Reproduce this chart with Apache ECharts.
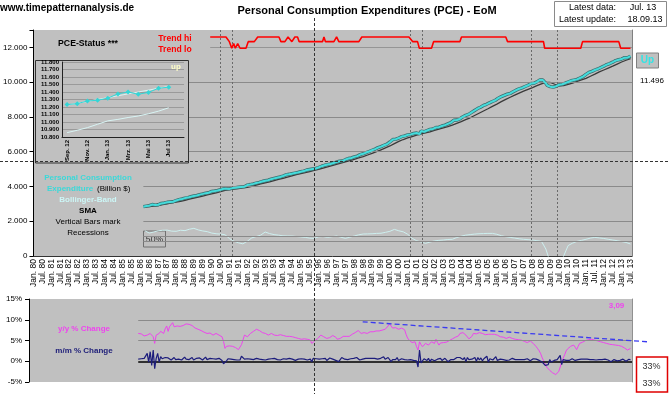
<!DOCTYPE html>
<html><head><meta charset="utf-8">
<script src="https://cdn.jsdelivr.net/npm/echarts@6/dist/echarts.min.js"></script>
<style>html,body{margin:0;padding:0;background:#fff;}#c{width:670px;height:394px;}</style>
</head><body><div id="c"></div>
<script>
// ---------- axis / calendar ----------
const axisStartYear = 1980;      // month index 0 = Jan. 80
const axisMonths = 403;          // Jan. 80 .. Jul. 13 (+1)
const lastMonth = 402;           // Jul. 13
const pceStartMonth = 74;        // Mar. 86
const chgStartMonth = 73;        // Feb. 86
const smaStartMonth = 75;        // Apr. 86, quarterly
const smaStep = 3;
const topTicks = [0, 2000, 4000, 6000, 8000, 10000, 12000];
const lowerTicks = [-5, 0, 5, 10, 15];

// ---------- PCE (Billion $), monthly from Mar. 86 ----------
const pce = [
 2838,2858,2870,2878,2895,2908,2965,2920,2928,2960,
 2950,3010,3025,3040,3050,3072,3090,3112,3105,3115,3120,3140,
 3190,3215,3245,3262,3280,3305,3330,3348,3360,3392,3412,3440,
 3455,3470,3480,3510,3530,3545,3572,3600,3615,3625,3640,3665,
 3715,3720,3740,3760,3770,3800,3815,3840,3865,3870,3862,3860,
 3860,3880,3905,3915,3930,3945,3955,3960,3975,3978,3990,4025,
 4080,4100,4110,4130,4150,4175,4195,4215,4235,4265,4285,4320,
 4330,4355,4360,4390,4420,4440,4465,4480,4505,4520,4545,4575,
 4600,4640,4670,4680,4700,4715,4735,4745,4770,4790,4805,4830,
 4850,4865,4885,4910,4945,4970,4975,4990,5005,5020,5035,5060,
 5090,5140,5165,5195,5220,5225,5260,5275,5295,5320,5345,5370,
 5400,5425,5450,5445,5465,5490,5540,5585,5610,5620,5640,5665,
 5700,5715,5745,5790,5835,5865,5885,5915,5950,5975,6010,6055,
 6085,6110,6150,6195,6235,6260,6290,6330,6370,6400,6430,6500,
 6560,6620,6700,6690,6720,6755,6785,6810,6870,6880,6905,6930,
 6970,6990,6995,7020,7050,7060,7075,7095,7020,7185,7160,7150,
 7190,7220,7235,7285,7275,7310,7375,7390,7390,7410,7440,7480,
 7520,7530,7585,7600,7630,7670,7730,7810,7805,7820,7845,7880,
 7960,8000,8060,8090,8160,8150,8230,8260,8310,8370,8410,8480,
 8480,8560,8590,8660,8670,8725,8830,8810,8860,8890,8920,8960,
 9060,9080,9120,9170,9200,9240,9290,9310,9320,9350,9380,9450,
 9500,9540,9585,9620,9650,9670,9710,9750,9790,9820,9880,9920,
 9930,9930,9990,10020,10070,10130,10150,10120,10060,9930,9810,9760,
 9740,9720,9710,9740,9770,9810,9850,9940,9880,9920,9940,9970,
 10010,10030,10080,10100,10120,10140,10160,10200,10240,10290,10320,10370,
 10450,10500,10560,10600,10620,10660,10700,10730,10760,10800,10840,10880,
 10920,10970,11010,11040,11070,11100,11150,11190,11240,11255,11290,11300,
 11330,11385,11410,11380,11405,11460,11496
];

// ---------- SMA, quarterly from Apr. 86 ----------
const sma = [
 2820,2845,2875,
 2905,2950,3000,3055, 3095,3140,3205,3270, 3330,3390,3450,3510, 3570,3630,3700,3770,
 3820,3850,3880,3920, 3955,4010,4080,4150, 4210,4270,4340,4410, 4470,4540,4610,4680,
 4740,4790,4860,4930, 4990,5050,5130,5200, 5270,5340,5410,5480, 5560,5640,5720,5810,
 5900,6000,6110,6220, 6330,6460,6590,6700, 6790,6870,6950,7020, 7080,7140,7220,7300,
 7370,7440,7530,7630, 7730,7840,7950,8080, 8210,8340,8470,8610, 8740,8880,9010,9130,
 9250,9370,9480,9590, 9690,9800,9900,9990, 9980,9880,9790,9800, 9870,9950,10040,10130,
 10220,10340,10460,10590, 10700,10810,10920,11040,
 11160,11260,11350
];

// ---------- Bollinger band width (drawn in primary-axis units), quarterly from Apr. 86 ----------
const bbWidth = [
 1450,1320,1380,
 1450,1480,1490,1430, 1420,1480,1460,1540, 1590,1500,1440,1400, 1320,1280,1260,1220,
 1000,850,760,700, 850,1040,1120,1200, 1380,1290,1230,1200, 1160,1150,1150,1120,
 1100,1070,1030,1015, 1100,1120,1073,1110, 1150,1080,1015,1080, 1150,1220,1264,1270,
 1280,1300,1310,1360, 1420,1530,1450,1390, 1250,1015,880,800, 730,800,870,900,
 920,950,960,1060, 1140,1200,1230,1260, 1280,1290,1300,1300, 1250,1170,1110,1070,
 1030,990,960,940, 920,880,850,400, -400,-700,-500,0, 600,740,840,900,
 960,1030,1070,1040, 1010,960,920,880,
 830,780,690
];
const bbRefLevels = [1130, 820];

// ---------- Trend status (red), vertices [month, level] ----------
const trendHi = 12600, trendMid = 12330, trendLo = 11950, trendWig = 12220;
const trendPoints = [
 [119,trendHi],[129.6,trendHi],[131.9,trendMid],[133.5,trendLo],[134.8,trendWig],[135.9,trendLo],
 [137.5,trendWig],[139.1,trendLo],[143.1,trendLo],[144.6,trendMid],[148.7,trendMid],[151,trendHi],
 [165.3,trendHi],[166.6,trendMid],[169.3,trendMid],[171.4,trendHi],[172.7,trendHi],[174,trendMid],
 [174.8,trendMid],[176,trendHi],[177.8,trendHi],[178.9,trendMid],[194.6,trendMid],[195.6,trendHi],
 [196.6,trendMid],[202.3,trendMid],[204.1,trendHi],[205.6,trendMid],[219.1,trendMid],[221.1,trendHi],
 [252.8,trendHi],[255.4,trendMid],[258.6,trendMid],[259.8,trendLo],[268,trendLo],[269.4,trendMid],
 [287.1,trendMid],[288.2,trendHi],[318,trendHi],[319.2,trendMid],[343.4,trendMid],[344.2,trendLo],
 [368.5,trendLo],[369.7,trendMid],[394.1,trendMid],[395.4,trendLo],[402,trendLo]
];
const recessions = [[126,134],[254,262],[335,353]];

// ---------- y/y % change, monthly from Feb. 86 ----------
const yoy = [
 6.7,6.6,6.6,6.4,6.1,6.2,6.3,6.5,6.7,
 6.4,5.9,4.3,6.3,6.5,6.7,7.2,7.6,6.7,7.8,
 8.5,7.2,8.4,8.8,9.3,8.3,8.0,8.5,8.3,8.4,
 8.4,8.6,8.8,9.0,9.2,8.9,8.8,8.6,8.4,8.0,
 7.6,7.7,7.7,7.4,7.2,7.0,6.8,6.7,6.9,6.8,
 6.6,6.3,6.5,6.7,6.5,6.3,6.1,5.9,4.8,3.1,
 3.6,3.9,3.7,3.5,3.6,3.7,3.3,2.9,2.8,2.7,
 4.0,5.1,6.3,6.0,5.9,6.3,6.7,6.9,7.2,7.4,
 7.7,7.5,7.4,7.1,6.9,6.8,6.7,6.5,6.3,6.4,
 6.7,6.5,6.3,6.3,6.2,6.1,6.4,6.7,6.2,5.9,
 6.0,6.1,6.0,5.9,5.9,5.8,5.7,5.5,5.5,5.4,
 5.3,5.2,5.4,5.5,5.3,5.2,5.1,4.3,4.7,4.9,
 5.2,5.5,5.9,6.3,6.1,5.9,5.8,5.5,5.3,5.7,
 6.1,6.2,6.3,5.8,5.3,5.1,5.5,5.9,6.0,6.1,
 6.0,5.8,6.0,6.3,6.5,6.7,6.9,7.2,7.4,7.0,
 6.7,6.8,6.9,6.8,6.7,6.9,7.1,7.2,7.1,7.2,
 7.3,7.4,7.3,7.4,7.5,7.6,7.7,8.0,8.5,9.0,
 8.6,8.0,8.2,8.1,7.8,7.7,7.9,8.0,7.8,7.6,
 6.5,5.6,5.1,4.7,4.5,4.6,4.7,3.5,2.7,4.7,
 4.0,3.5,3.9,4.3,4.1,3.9,4.3,4.7,4.5,4.3,
 5.3,4.5,3.9,4.4,4.7,4.5,4.3,4.6,4.9,5.0,
 5.1,5.4,5.7,5.8,6.0,6.1,6.7,6.8,6.9,6.6,
 6.3,5.9,5.4,5.1,6.0,6.7,6.6,6.6,6.8,6.9,
 6.8,6.7,6.6,6.4,6.3,6.5,6.7,6.5,6.3,6.5,
 6.6,6.3,6.0,5.9,5.8,5.8,5.6,5.5,5.7,5.8,
 5.6,5.5,5.4,5.3,5.3,5.2,5.1,5.1,5.1,4.8,
 4.6,4.5,4.8,4.9,4.6,4.3,3.9,3.5,3.0,2.5,
 1.8,0.8,0.1,-0.7,-1.4,-1.8,-2.2,-2.5,-2.8,-3.0,
 -3.2,-3.1,-2.5,-1.4,-0.3,0.7,1.6,2.5,3.0,3.4,
 3.6,3.8,3.9,3.4,2.8,3.6,4.3,4.4,4.6,4.8,
 5.0,5.1,5.2,5.3,5.3,5.3,5.1,5.0,4.9,4.8,
 4.7,4.6,4.5,4.4,4.3,4.2,4.1,4.1,4.0,3.9,
 3.9,3.9,3.8,3.7,3.6,3.4,3.2,2.9,2.7,3.0,3.09
];

// ---------- m/m % change, monthly from Feb. 86 ----------
const mom = [
 0.5,0.8,0.6,0.9,0.7,1.0,1.9,-0.2,2.3,
 -1.0,2.7,-1.8,0.7,1.9,-0.2,1.1,0.6,0.4,0.9,
 0.5,0.8,1.2,0.3,0.6,0.9,0.4,0.7,0.5,0.8,
 0.3,0.6,1.0,0.5,0.7,0.4,0.6,0.9,0.3,0.5,
 0.7,0.4,0.8,0.5,0.3,0.6,1.0,0.4,0.5,0.7,
 0.3,0.6,0.9,0.5,0.4,0.7,0.3,0.2,-0.6,-0.4,
 0.1,0.6,0.3,0.5,0.2,0.4,0.1,0.3,0.4,0.3,
 1.2,1.6,0.5,0.4,0.6,0.3,0.5,0.8,0.4,0.6,
 0.7,0.3,0.5,0.9,0.4,0.6,0.3,0.7,0.5,0.4,
 0.6,0.3,0.7,0.5,0.4,0.8,0.3,0.5,0.6,0.2,
 0.5,0.4,0.7,0.3,0.5,0.6,0.2,0.4,0.5,0.3,
 0.6,0.2,0.5,0.8,0.3,0.4,0.5,-0.1,0.7,0.4,
 0.6,0.9,0.5,0.3,0.6,0.4,0.7,0.2,0.5,0.8,
 0.4,0.5,0.6,0.2,0.4,-0.1,0.4,0.9,0.8,0.5,
 0.2,0.4,0.6,0.6,0.3,0.7,0.8,0.9,0.5,0.3,
 0.6,0.5,0.4,0.7,0.4,0.7,0.5,0.7,0.6,0.7,
 0.6,0.5,0.6,0.7,0.5,1.1,0.5,0.9,0.9,1.2,
 -0.1,0.4,0.5,0.4,0.9,0.2,0.4,0.6,0.3,0.4,
 0.6,0.3,0.1,0.4,0.4,0.2,0.3,0.1,-1.4,2.7,
 -0.4,-0.1,0.6,0.4,0.2,0.7,-0.1,0.5,0.9,0.1,
 0.3,0.5,0.3,0.7,0.2,0.5,0.7,1.0,-0.1,0.2,
 0.4,0.8,0.4,0.5,0.9,0.5,0.9,0.8,0.4,0.9,
 -0.1,0.9,0.4,0.8,0.5,0.7,0.9,0.0,0.9,0.3,
 0.8,0.1,0.6,0.6,1.2,-0.2,0.6,0.3,0.3,0.5,
 1.1,0.2,0.4,0.5,0.3,0.4,0.5,0.2,0.1,0.3,
 0.3,0.7,0.5,0.4,0.5,0.4,0.3,0.4,0.4,0.4,
 0.3,0.6,0.4,0.1,0.0,0.6,0.3,0.5,0.6,0.2,
 -0.1,-0.2,-0.6,-1.0,-1.4,-0.8,0.4,-0.2,-0.4,0.2,
 0.0,0.4,0.3,1.4,-0.8,0.4,0.4,0.2,0.3,0.2,
 0.4,0.6,0.2,0.2,0.2,0.4,0.4,0.5,0.3,0.5,
 0.8,0.5,0.6,0.4,0.2,0.4,0.4,0.3,0.3,0.4,
 0.3,0.4,0.4,0.5,0.3,0.3,0.2,-0.1,0.3,0.4,
 0.4,0.1,0.5,0.2,0.3,0.5,0.2,0.0,0.2,0.5,0.3
];
const lowerTrendLine = [[223, 9.5], [415, 4.65]];
const lowerGridLevels = [5, 10];

// ---------- inset "PCE-Status" ----------
const insetCategories = ['Sep. 12','Okt. 12','Nov. 12','Dez. 12','Jan. 13','Feb. 13','Mrz. 13','Apr. 13','Mai 13','Jun. 13','Jul 13',''];
const insetPce = [11232,11245,11280,11290,11318,11375,11400,11370,11395,11450,11465];
const insetLower = [10858,10890,10925,10970,11015,11035,11060,11080,11110,11145,11190];
const insetTrend = [[0,11225],[10,11475]];

// crosshair position in data terms
const crosshair = {month: 189, value: 5465};

// ---------- helpers ----------
const FONT = '"Liberation Sans", Arial, sans-serif';
function dotThousands(v){ return String(v).replace(/\B(?=(\d{3})+(?!\d))/g, '.'); }
function monthLabel(m){
  if (m % 6 !== 0 || m > lastMonth) return '';
  const yy = (axisStartYear + Math.floor(m / 12)) % 100;
  return (m % 12 === 0 ? 'Jan. ' : 'Jul. ') + (yy < 10 ? '0' : '') + yy;
}
function txt(x, y, text, font, fill, align, z){
  return {type:'text', z: z || 30, style:{x:x, y:y, text:text, font:font, fill:fill,
    align: align || 'center', verticalAlign:'middle', textAlign: align || 'center', textVerticalAlign:'middle'}};
}
function rect(x, y, w, h, fill, stroke, lw, z){
  return {type:'rect', z: z, shape:{x:x, y:y, width:w, height:h}, style:{fill:fill, stroke:stroke, lineWidth: lw || 1}};
}

const pceData = pce.map((v,i) => [pceStartMonth + i, v]);
const smaData = sma.map((v,i) => [smaStartMonth + i*smaStep, v]);
const bbData = bbWidth.map((v,i) => [smaStartMonth + i*smaStep, v]);
const yoyData = yoy.map((v,i) => [chgStartMonth + i, v]);
const momData = mom.map((v,i) => [chgStartMonth + i, v]);

const grayLine = {color:'#8a8a8a', width:1, type:'solid'};
const topMarkLines = [
  ...topTicks.filter(v => v > 0 && v < 12000).map(v => [{coord:[pceStartMonth, v], lineStyle:grayLine}, {coord:[axisMonths, v]}]),
  [{coord:[trendPoints[0][0], 12000], lineStyle:{color:'#959595', width:1, type:'solid'}}, {coord:[axisMonths, 12000]}],
  ...bbRefLevels.map(v => [{coord:[pceStartMonth, v], lineStyle:grayLine}, {coord:[axisMonths, v]}]),
  ...recessions.flat().map(m => ({xAxis:m, lineStyle:{color:'#6a6a6a', width:1, type:[2,2]}}))
];
const lowerMarkLines = [
  ...lowerGridLevels.map(v => [{coord:[chgStartMonth, v], lineStyle:grayLine}, {coord:[axisMonths, v]}]),
  [{coord:[chgStartMonth, 0], lineStyle:{color:'#000', width:1.5, type:'solid'}}, {coord:[axisMonths, 0]}]
];

const chart = echarts.init(document.getElementById('c'), null, {renderer:'canvas', width:670, height:394});

const option = {
  animation: false,
  backgroundColor: '#ffffff',
  textStyle: {fontFamily: FONT},
  grid: [
    {left:32, top:30, width:600, height:226, show:true, backgroundColor:'#C0C0C0', borderWidth:0, z:0},
    {left:29, top:299, width:603, height:83, show:true, backgroundColor:'#C0C0C0', borderWidth:0, z:0},
    {left:62, top:62, width:122, height:75, show:true, backgroundColor:'#C0C0C0', borderWidth:0, z:7}
  ],
  xAxis: [
    {type:'value', gridIndex:0, min:0, max:axisMonths, interval:6,
     axisLine:{show:true, lineStyle:{color:'#333', width:1}}, axisTick:{show:false}, splitLine:{show:false},
     axisLabel:{show:true, rotate:90, fontSize:8.5, margin:3, color:'#000', fontFamily:FONT, hideOverlap:false,
       formatter: v => monthLabel(Math.round(v))}},
    {type:'value', gridIndex:1, min:0, max:axisMonths, show:false, splitLine:{show:false}},
    {type:'category', gridIndex:2, data:insetCategories, boundaryGap:true, z:7,
     axisLine:{show:true, lineStyle:{color:'#222'}}, axisTick:{show:false},
     axisLabel:{interval:1, rotate:90, fontSize:6, fontWeight:'bold', margin:3, color:'#000', fontFamily:FONT}}
  ],
  yAxis: [
    {type:'value', gridIndex:0, min:0, max:13000, interval:2000,
     axisLine:{show:true, lineStyle:{color:'#000', width:1}},
     axisTick:{show:true, length:4, lineStyle:{color:'#000'}},
     splitLine:{show:false},
     axisLabel:{fontSize:8, margin:6, color:'#000', fontFamily:FONT,
       formatter: v => (topTicks.indexOf(v) >= 0 ? dotThousands(v) : '')}},
    {type:'value', gridIndex:1, min:-5, max:15, interval:5,
     axisLine:{show:true, lineStyle:{color:'#000', width:1}},
     axisTick:{show:true, length:4, lineStyle:{color:'#000'}},
     splitLine:{show:false},
     axisLabel:{fontSize:8, margin:7, color:'#000', fontFamily:FONT,
       formatter: v => (lowerTicks.indexOf(v) >= 0 ? v + '%' : '')}},
    {type:'value', gridIndex:2, min:10800, max:11800, interval:100, z:7,
     axisLine:{show:true, lineStyle:{color:'#222'}}, axisTick:{show:false},
     splitLine:{show:true, lineStyle:{color:'#9a9a9a', width:1}},
     axisLabel:{fontSize:6, fontWeight:'bold', margin:3, color:'#000', fontFamily:FONT,
       formatter: v => dotThousands(v)}},
    {type:'value', gridIndex:0, position:'right', min:0, max:13000, axisLine:{show:true, lineStyle:{color:'#808080'}},
     axisTick:{show:false}, axisLabel:{show:false}, splitLine:{show:false}},
    {type:'value', gridIndex:1, position:'right', min:-5, max:15, axisLine:{show:true, lineStyle:{color:'#909090'}},
     axisTick:{show:false}, axisLabel:{show:false}, splitLine:{show:false}}
  ],
  series: [
    {name:'grid-top', type:'line', xAxisIndex:0, yAxisIndex:0, data:[], z:1, silent:true,
     markLine:{silent:true, symbol:['none','none'], label:{show:false}, animation:false, data: topMarkLines}},
    {name:'Bollinger width', type:'line', xAxisIndex:0, yAxisIndex:0, data:bbData, z:4, showSymbol:false, silent:true,
     lineStyle:{color:'#CDEFEF', width:1}},
    {name:'SMA', type:'line', xAxisIndex:0, yAxisIndex:0, data:smaData, z:4, showSymbol:false, silent:true,
     lineStyle:{color:'#3a3a3a', width:1.3}},
    {name:'PCE outline', type:'line', xAxisIndex:0, yAxisIndex:0, data:pceData, z:4, showSymbol:false, silent:true,
     lineStyle:{color:'#3c6e6e', width:3.4}},
    {name:'PCE', type:'line', xAxisIndex:0, yAxisIndex:0, data:pceData, z:5, showSymbol:false, silent:true,
     lineStyle:{color:'#44DCDC', width:2}},
    {name:'Trend', type:'line', xAxisIndex:0, yAxisIndex:0, data:trendPoints, z:5, showSymbol:false, silent:true,
     lineStyle:{color:'#FF0000', width:1.6}},

    {name:'grid-low', type:'line', xAxisIndex:1, yAxisIndex:1, data:[], z:1, silent:true,
     markLine:{silent:true, symbol:['none','none'], label:{show:false}, animation:false, data: lowerMarkLines}},
    {name:'y/y', type:'line', xAxisIndex:1, yAxisIndex:1, data:yoyData, z:4, showSymbol:false, silent:true,
     lineStyle:{color:'#EE44EE', width:1}},
    {name:'m/m', type:'line', xAxisIndex:1, yAxisIndex:1, data:momData, z:5, showSymbol:false, silent:true,
     lineStyle:{color:'#1c1c7c', width:1.2}},

    {name:'inset lower', type:'line', xAxisIndex:2, yAxisIndex:2, data:insetLower, z:8, showSymbol:false, silent:true,
     lineStyle:{color:'#D8F4F4', width:1}},
    {name:'inset trend', type:'line', xAxisIndex:2, yAxisIndex:2, data:insetTrend, z:8, showSymbol:false, silent:true,
     lineStyle:{color:'#D8F4F4', width:1}},
    {name:'inset PCE', type:'line', xAxisIndex:2, yAxisIndex:2, data:insetPce, z:9, symbol:'diamond', symbolSize:5,
     showSymbol:true, silent:true, lineStyle:{color:'#33D6D6', width:1}, itemStyle:{color:'#33D6D6'}}
  ],
  graphic: [
    txt(0, 8, 'www.timepatternanalysis.de', 'bold 10px ' + FONT, '#000', 'left'),
    txt(367, 11, 'Personal Consumption Expenditures (PCE) - EoM', 'bold 11px ' + FONT, '#000'),
    rect(554.5, 1.5, 112, 25, '#fff', '#8a8a8a', 1, 20),
    txt(616, 7.5, 'Latest data:', '9px ' + FONT, '#000', 'right'),
    txt(616, 20, 'Latest update:', '9px ' + FONT, '#000', 'right'),
    txt(643, 7.5, monthLabel(lastMonth), '9px ' + FONT, '#000'),
    txt(645, 20, '18.09.13', '9px ' + FONT, '#000'),

    txt(88, 43.5, 'PCE-Status ***', 'bold 8.7px ' + FONT, '#000'),
    txt(175, 38.5, 'Trend hi', 'bold 8.6px ' + FONT, '#FF0000'),
    txt(175, 50, 'Trend lo', 'bold 8.6px ' + FONT, '#FF0000'),
    rect(35.5, 60.5, 153, 102.5, '#C0C0C0', '#303030', 1, 6),
    txt(176, 67, 'up', 'bold 8px ' + FONT, '#FFFFC8', 'center', 12),

    txt(88, 177.5, 'Personal Consumption', 'bold 8px ' + FONT, '#3CD8D8'),
    txt(47, 188.5, 'Expenditure', 'bold 8px ' + FONT, '#3CD8D8', 'left'),
    txt(97, 188.5, '(Billion $)', '8px ' + FONT, '#000', 'left'),
    txt(88, 199.5, 'Bollinger-Band', 'bold 8px ' + FONT, '#CCF6F6'),
    txt(88, 210.5, 'SMA', 'bold 8px ' + FONT, '#000'),
    txt(88, 221.5, 'Vertical Bars mark', '8px ' + FONT, '#000'),
    txt(88, 232.5, 'Recessions', '8px ' + FONT, '#000'),
    rect(143.5, 231, 22, 16, '#C0C0C0', '#707070', 1, 3),
    txt(154.5, 239.5, '50%', '8.7px ' + FONT, '#333', 'center', 3),

    rect(636.5, 53, 22, 15, '#C0C0C0', '#808080', 1, 20),
    txt(647.5, 60.5, 'Up', 'bold 10px ' + FONT, '#33E4E4'),
    txt(652, 80.5, dotThousands(pce[pce.length - 1]), '8px ' + FONT, '#000'),

    txt(84, 329, 'y/y % Change', 'bold 8px ' + FONT, '#EE44EE'),
    txt(84, 351, 'm/m % Change', 'bold 8px ' + FONT, '#20207a'),
    txt(616.5, 306, yoy[yoy.length - 1].toFixed(2).replace('.', ','), 'bold 8px ' + FONT, '#EE44EE'),
    rect(636.5, 357, 31, 35, '#fff', '#E00000', 1.5, 20),
    txt(651.5, 366.5, '33%', '9px ' + FONT, '#333'),
    txt(651.5, 384, '33%', '9px ' + FONT, '#333')
  ]
};
chart.setOption(option);

// crosshair cursor and y/y resistance line, placed through the library's scales
const extra = [];
const cp = chart.convertToPixel({gridIndex:0}, [crosshair.month, crosshair.value]);
if (cp) {
  extra.push({type:'line', z:50, shape:{x1:0, y1:Math.round(cp[1]) + 0.5, x2:670, y2:Math.round(cp[1]) + 0.5},
     style:{stroke:'#333', lineWidth:1, lineDash:[3,2]}});
  extra.push({type:'line', z:50, shape:{x1:Math.round(cp[0]) + 0.5, y1:18, x2:Math.round(cp[0]) + 0.5, y2:394},
     style:{stroke:'#333', lineWidth:1, lineDash:[3,2]}});
}
const t0 = chart.convertToPixel({gridIndex:1}, lowerTrendLine[0]);
const t1 = chart.convertToPixel({gridIndex:1}, lowerTrendLine[1]);
if (t0 && t1) {
  extra.push({type:'line', z:25, shape:{x1:t0[0], y1:t0[1], x2:t1[0], y2:t1[1]},
     style:{stroke:'#3a3af0', lineWidth:1.3, lineDash:[5,3]}});
}
chart.setOption({graphic: option.graphic.concat(extra)}, {replaceMerge:['graphic']});
</script>
</body></html>
